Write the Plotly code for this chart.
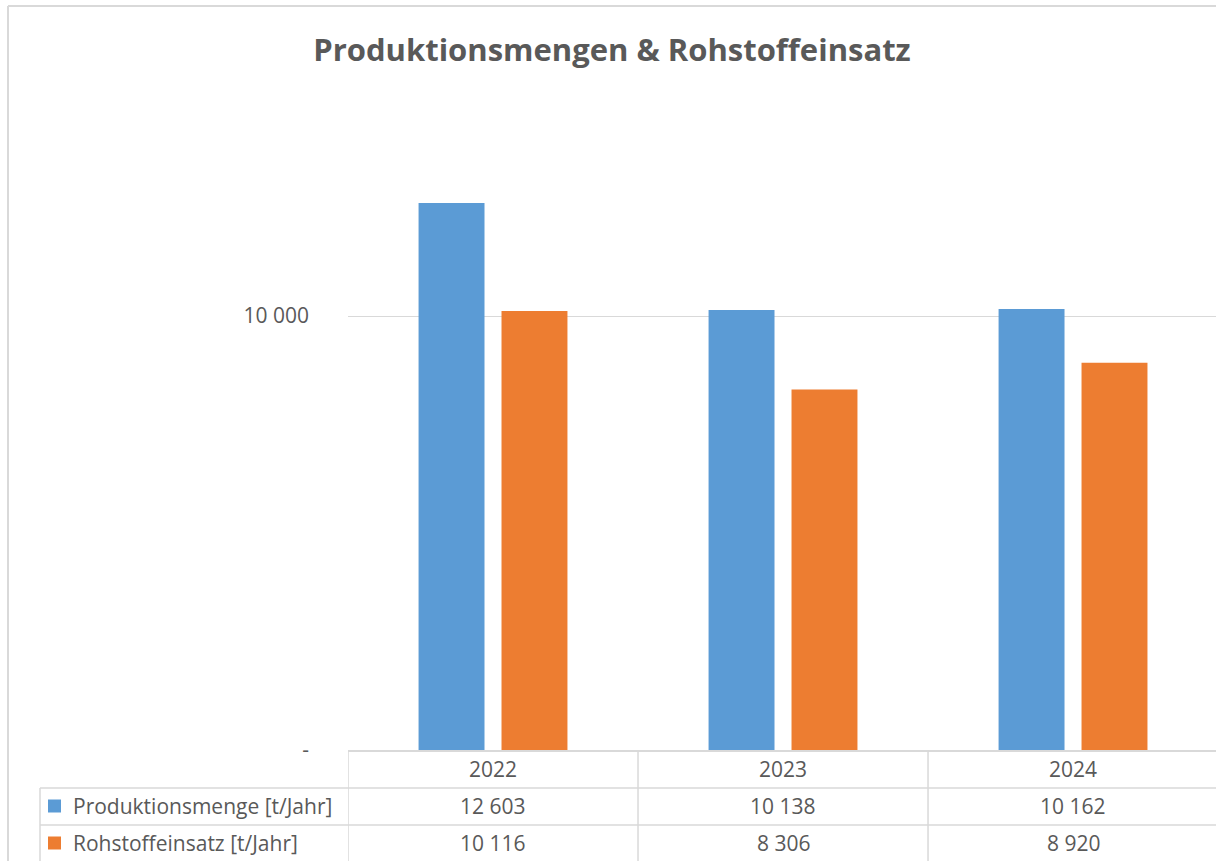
import plotly.graph_objects as go

# data
years = ["2022", "2023", "2024"]
produktion = [12603, 10138, 10162]
rohstoff = [10116, 8306, 8920]
series_names = ["Produktionsmenge [t/Jahr]", "Rohstoffeinsatz [t/Jahr]"]
series_colors = ["#5B9BD5", "#ED7D31"]

W, H = 1216, 861
L, R, T, B = 348, 0, 99, 111
PW, PH = W - L - R, H - T - B
GRID = "#D9D9D9"
TXT = "#595959"
FONT = "Open Sans, sans-serif"
FS = 21


def fx(x):
    return (x - L) / PW


def fy(y):
    return (H - B - y) / PH


def fmt(v):
    return f"{v:,}".replace(",", " ")


fig = go.Figure()
for name, vals, col in zip(series_names, [produktion, rohstoff], series_colors):
    fig.add_trace(go.Bar(x=years, y=vals, name=name, marker_color=col,
                         marker_line_width=0, showlegend=False))

fig.update_layout(
    width=W, height=H,
    margin=dict(l=L, r=R, t=T, b=B),
    paper_bgcolor="white", plot_bgcolor="white",
    barmode="group", bargap=0.428, bargroupgap=0.205,
    font=dict(family=FONT, color=TXT, size=FS),
    title=dict(text="<b>Produktionsmengen & Rohstoffeinsatz</b>",
               x=612 / W, xref="container", xanchor="center",
               y=1 - 50 / H, yref="container", yanchor="middle",
               font=dict(size=31, color=TXT, family=FONT)),
)
fig.update_yaxes(range=[0, 15000], tickvals=[0, 10000], ticktext=["-", "10 000"],
                 showgrid=True, gridcolor=GRID, gridwidth=1, zeroline=False,
                 showline=False, ticklabelstandoff=38,
                 tickfont=dict(size=FS, color=TXT))
# plot area is cut off a couple of pixels before the last category ends
fig.update_xaxes(type="category", range=[-0.5, 2.493], showticklabels=False,
                 showgrid=False, showline=True, linecolor=GRID, linewidth=1.5,
                 zeroline=False)

shapes = []
line = dict(color=GRID, width=1.5)
# outer chart border (top and left edges only, rest is cut off)
shapes.append(dict(type="line", xref="paper", yref="paper",
                   x0=fx(8), x1=fx(1230), y0=fy(6), y1=fy(6),
                   line=dict(color=GRID, width=2)))
shapes.append(dict(type="line", xref="paper", yref="paper",
                   x0=fx(8), x1=fx(8), y0=fy(6), y1=fy(880),
                   line=dict(color=GRID, width=2)))
# data table grid
for i in range(len(years)):
    shapes.append(dict(type="line", xref="x", yref="paper",
                       x0=i - 0.5, x1=i - 0.5, y0=fy(750), y1=fy(870), line=line))
shapes.append(dict(type="line", xref="paper", yref="paper",
                   x0=fx(40), x1=fx(40), y0=fy(788), y1=fy(870), line=line))
for yv in [788, 825]:
    shapes.append(dict(type="line", xref="paper", yref="paper",
                       x0=fx(40), x1=fx(1230), y0=fy(yv), y1=fy(yv), line=line))

annotations = []
for i, yr in enumerate(years):
    annotations.append(dict(x=i, xref="x", y=fy(769), yref="paper",
                            text=yr, showarrow=False, yanchor="middle",
                            font=dict(size=FS, color=TXT)))
row_y = [806, 843]
for name, vals, col, ry in zip(series_names, [produktion, rohstoff], series_colors, row_y):
    shapes.append(dict(type="rect", xref="paper", yref="paper",
                       x0=fx(48), x1=fx(61), y0=fy(ry + 6.5), y1=fy(ry - 6.5),
                       fillcolor=col, line_width=0))
    annotations.append(dict(x=fx(71), xref="paper", y=fy(ry), yref="paper",
                            text=name, showarrow=False, xanchor="left", yanchor="middle",
                            font=dict(size=FS, color=TXT)))
    for i, v in enumerate(vals):
        annotations.append(dict(x=i, xref="x", y=fy(ry), yref="paper",
                                text=fmt(v), showarrow=False, yanchor="middle",
                                font=dict(size=FS, color=TXT)))

fig.update_layout(shapes=shapes, annotations=annotations)
fig.write_html("out.html", config={"displayModeBar": False},
               post_script="document.body.style.margin='0';")
